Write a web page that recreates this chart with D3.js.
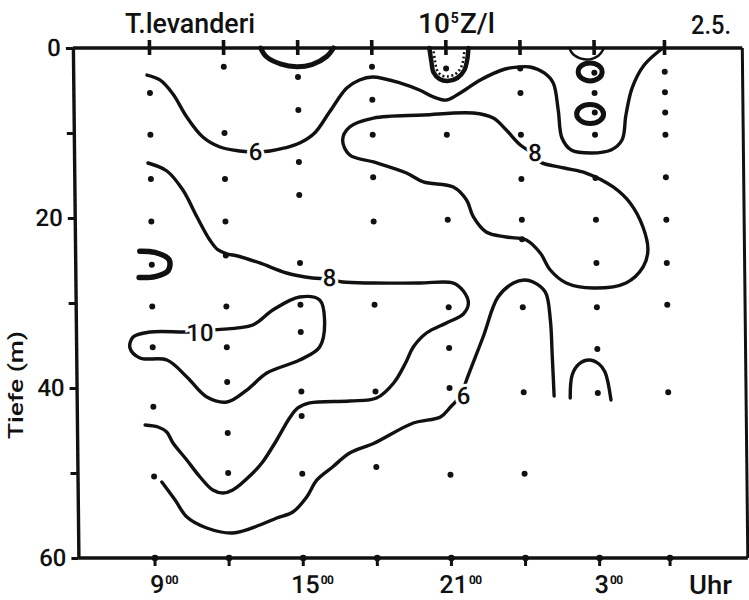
<!DOCTYPE html>
<html><head><meta charset="utf-8">
<script src="https://cdn.jsdelivr.net/npm/d3@7"></script>
<style>
html,body{margin:0;padding:0;background:#fff;}
svg{display:block;}
text{font-family:Roboto,"Liberation Sans",Arial,sans-serif;fill:#111;font-weight:500;}
</style></head><body>
<svg id="chart" width="749" height="600"></svg>
<script>
// ---------- data (time in hours, 24+ = next day; depth in m) ----------
const sampleTimes = [9, 12, 15, 18, 21, 24, 27, 29.85];
const sampleDepths = [
  [5.3, 10.2, 15.4, 20.4, 25.5, 30.4, 35.2, 42.2, 50.4],
  [2.2, 10, 15.4, 20.4, 24.4, 30.4, 35.2, 39.3, 45.3, 50],
  [3.4, 7.3, 13.4, 17.3, 25.3, 30.2, 33.4, 40.4, 43.3, 50.1],
  [2.2, 6.1, 10.2, 15.2, 20.4, 30.2, 40.4, 49.3],
  [2.4, 10.2, 20.2, 30.5, 35.3, 40, 50.2],
  [2.4, 5.3, 10.2, 15.4, 20.2, 22.5, 30.5, 40.5, 50.1],
  [2.9, 5.3, 7.6, 10.2, 15.3, 20.2, 25.3, 30.5, 35.4, 40.6],
  [2.8, 5.2, 7.6, 10.2, 15.2, 20.2, 25.3, 30.2, 40.5]
];
const depthTicks = [0, 10, 20, 30, 40, 50, 60];
const depthTickLabels = ["0", "", "20", "", "40", "", "60"];
const hourLabelTimes = [9, 15, 21, 27];
const hourLabels = ["9", "15", "21", "3"];
const hourSup = "00";
const timeDomain = [5.9, 33.0];
const depthDomain = [0, 60];

// isolines (10^5 cells per litre)
const iso6Upper = [[8.89,3.18],[9.41,3.76],[9.93,5.41],[10.48,8.12],[11.12,10.47],[11.81,11.65],[12.61,12.12],[13.22,12.24],[13.83,12.12],[14.43,11.76],[15.04,11.18],[15.65,10.0],[16.26,7.53],[16.97,4.71],[17.49,3.76],[18.02,3.41],[19.15,4.12],[19.91,4.94],[20.47,5.76],[21.0,6.12],[21.56,5.29],[22.38,3.76],[23.39,2.47],[23.92,2.24],[24.40,2.24],[24.97,2.94],[25.33,4.12],[25.52,7.29],[25.66,10.59],[26.03,12.0],[26.84,12.35],[27.64,12.0],[28.09,10.82],[28.26,7.88],[28.52,4.71],[29.02,2.0],[29.79,0]];
const iso8Open = [[8.89,13.53],[9.65,14.47],[10.29,16.71],[10.85,19.88],[11.36,22.59],[11.69,23.76],[12.08,24.24],[12.48,24.47],[13.37,25.29],[14.45,26.47],[15.50,27.06],[16.11,27.18],[16.72,27.53],[17.93,27.65],[19.83,27.65],[21.20,27.65],[21.60,28.59],[21.80,30.0],[21.59,31.29],[20.90,32.35],[20.09,33.53],[19.55,35.18],[19.23,37.06],[18.74,39.41],[18.04,41.18],[16.95,41.53],[15.33,41.76],[14.85,42.35],[14.51,43.53],[13.98,46.12],[13.40,48.71],[13.0,50.0],[12.18,52.0],[11.78,52.35],[11.37,52.0],[10.86,50.47],[10.33,48.47],[9.78,46.47],[9.53,45.18],[9.18,44.59],[8.66,44.35]];
const iso6Lower = [[9.31,51.06],[9.84,53.18],[10.31,55.18],[11.11,56.47],[12.16,57.06],[13.26,56.12],[13.95,55.29],[14.60,54.59],[15.17,52.82],[15.59,50.82],[16.23,49.29],[16.93,47.65],[17.94,46.47],[19.52,44.12],[20.62,43.41],[21.03,42.24],[21.47,40.82],[21.69,39.06],[22.38,34.0],[23.0,29.3],[23.63,27.65],[24.07,27.29],[24.43,27.53],[24.92,28.71],[25.11,32.0],[25.17,36.12],[25.23,40.94]];
const iso8Closed = [[18.04,8.24],[20.06,7.88],[22.08,7.65],[22.89,8.24],[23.41,9.65],[23.97,11.41],[24.57,12.59],[24.77,13.41],[25.74,14.12],[26.62,14.71],[27.71,16.35],[28.39,18.24],[28.90,21.06],[29.09,23.76],[28.89,25.76],[28.19,27.65],[26.86,28.24],[25.77,27.65],[25.13,26.12],[24.73,24.12],[24.17,22.59],[23.36,22.24],[22.55,21.65],[22.04,19.88],[21.77,17.88],[21.24,16.35],[20.03,15.76],[19.35,14.71],[18.02,13.41],[17.06,12.59],[16.78,10.82],[17.07,9.29]];
const iso10Closed = [[8.08,35.29],[8.21,34.0],[8.90,33.41],[10.23,33.41],[11.0,33.41],[11.44,33.18],[13.06,32.59],[13.88,30.82],[14.97,29.29],[15.78,29.65],[15.97,32.0],[15.76,35.18],[14.94,36.71],[13.61,38.24],[12.79,40.24],[11.98,41.65],[11.17,41.06],[10.37,38.71],[9.57,36.71],[8.48,36.47]];
const iso12Small = [[8.52,23.9],[9.13,24.05],[9.7,24.9],[9.66,26.2],[9.13,26.9],[8.48,27.0]];
const cap15 = [[13.50,0],[13.72,1.0],[14.32,1.9],[14.96,2.2],[15.57,1.95],[16.17,1.0],[16.45,0]];
const cap21 = [[20.33,0],[20.41,1.65],[20.48,2.82],[20.73,3.65],[21.05,3.88],[21.45,3.53],[21.74,2.59],[21.87,1.18],[21.91,0]];
const cap21Inner = [[20.5,0.4],[20.56,1.6],[20.63,2.6],[20.8,3.2],[21.05,3.35],[21.38,3.05],[21.6,2.3],[21.71,1.2],[21.74,0.4]];
const cap27 = [[25.99,0],[26.17,0.8],[26.67,1.35],[27.17,0.9],[27.40,0]];
const arch27 = [[25.88,41.18],[25.97,38.47],[26.25,37.18],[26.66,36.71],[27.06,37.18],[27.30,38.12],[27.53,41.41]];
const ovalTimes = [26.83, 26.81];
const ovalDepths = [2.82, 7.76];
const ovalHalfHours = [0.485, 0.545];
const ovalHalfDepths = [1.06, 1.12];

const isoLabelTexts = ["6", "8", "8", "10", "6"];
const isoLabelTimes = [13.25, 16.19, 24.56, 10.92, 21.56];
const isoLabelDepths = [12.2, 27.0, 12.35, 33.5, 40.9];

// ---------- drawing ----------
const ink = "#111";
const svg = d3.select("#chart");
svg.append("rect").attr("width", 749).attr("height", 600).attr("fill", "#fff");

const x = d3.scaleLinear().domain(timeDomain).range([72.9, 742.3]);
const y = d3.scaleLinear().domain(depthDomain).range([48, 558]);

// the scanned figure is slightly sheared
const k = 0.0108;
const g = svg.append("g")
  .attr("transform", `translate(${-k * 48},0) skewX(${Math.atan(k) * 180 / Math.PI})`);

// frame
g.append("line").attr("x1", x(timeDomain[0])).attr("x2", x(timeDomain[1]))
  .attr("y1", y(0)).attr("y2", y(0)).attr("stroke", ink).attr("stroke-width", 3.4);
g.append("line").attr("x1", x(timeDomain[0])).attr("x2", x(timeDomain[1]))
  .attr("y1", y(60)).attr("y2", y(60)).attr("stroke", ink).attr("stroke-width", 3.4);
g.append("line").attr("x1", x(timeDomain[1])).attr("x2", x(timeDomain[1]))
  .attr("y1", y(0)).attr("y2", y(60)).attr("stroke", ink).attr("stroke-width", 3);

// left axis
const yAxis = g.append("g").attr("transform", `translate(${x(timeDomain[0])},0)`)
  .call(d3.axisLeft(y).tickValues(depthTicks).tickSize(7).tickSizeOuter(0).tickPadding(5)
    .tickFormat((d, i) => depthTickLabels[i]));
yAxis.select(".domain").attr("stroke", ink).attr("stroke-width", 3.4);
yAxis.selectAll(".tick line").attr("stroke", ink).attr("stroke-width", 2.8);
yAxis.selectAll(".tick text").attr("fill", ink).attr("font-size", 24).attr("font-weight", 500)
  .attr("font-family", "Roboto, 'Liberation Sans', Arial, sans-serif");

// top and bottom ticks at sampling times
g.selectAll(".ttick").data(sampleTimes).join("line").attr("class", "ttick")
  .attr("x1", d => x(d)).attr("x2", d => x(d))
  .attr("y1", y(0) - 8).attr("y2", y(0) + 7).attr("stroke", ink).attr("stroke-width", 3.6);
g.selectAll(".btick").data(sampleTimes).join("line").attr("class", "btick")
  .attr("x1", d => x(d)).attr("x2", d => x(d))
  .attr("y1", y(60) - 3).attr("y2", y(60) + 8).attr("stroke", ink).attr("stroke-width", 3);
g.selectAll(".bdot").data(sampleTimes).join("circle").attr("class", "bdot")
  .attr("cx", d => x(d)).attr("cy", y(60)).attr("r", 3.3).attr("fill", ink);

// bottom labels: number centred on the tick, superscript trailing (one text element each)
hourLabelTimes.forEach((t, i) => {
  const tx = g.append("text").attr("y", 593).attr("text-anchor", "start");
  const main = tx.append("tspan").attr("font-size", 25).text(hourLabels[i]);
  tx.append("tspan").attr("font-size", 12).attr("font-weight", "bold").attr("dx", 1)
    .attr("dy", -9).attr("letter-spacing", -0.5).text(hourSup);
  const w = main.node().getComputedTextLength();
  tx.attr("x", x(t) - w / 2 + 2);
});

// isolines
const line = d3.line().x(d => x(d[0])).y(d => y(d[1])).curve(d3.curveCatmullRom.alpha(0.5));
const lineClosed = d3.line().x(d => x(d[0])).y(d => y(d[1])).curve(d3.curveCatmullRomClosed.alpha(0.5));
const iso = g.append("g").attr("fill", "none").attr("stroke", ink)
  .attr("stroke-linecap", "round").attr("stroke-linejoin", "round");
[iso6Upper, iso8Open, iso6Lower, arch27].forEach(p =>
  iso.append("path").attr("d", line(p)).attr("stroke-width", 3.4));
[iso8Closed, iso10Closed].forEach(p =>
  iso.append("path").attr("d", lineClosed(p)).attr("stroke-width", 3.4));
iso.append("path").attr("d", line(iso12Small)).attr("stroke-width", 5.5);
iso.append("path").attr("d", line(cap15)).attr("stroke-width", 5);
iso.append("path").attr("d", line(cap21)).attr("stroke-width", 4.5);
iso.append("path").attr("d", line(cap21Inner)).attr("stroke-width", 2.5)
  .attr("stroke-dasharray", "2,2.5").attr("stroke-linecap", "butt");
iso.append("path").attr("d", line(cap27)).attr("stroke-width", 2.5);
ovalTimes.forEach((t, i) => {
  iso.append("ellipse").attr("cx", x(t)).attr("cy", y(ovalDepths[i]))
    .attr("rx", x(t + ovalHalfHours[i]) - x(t))
    .attr("ry", y(ovalDepths[i] + ovalHalfDepths[i]) - y(ovalDepths[i]))
    .attr("stroke-width", 5);
});

// isoline labels
isoLabelTexts.forEach((s, i) => {
  g.append("text").attr("x", x(isoLabelTimes[i])).attr("y", y(isoLabelDepths[i]) + 8.5)
    .attr("text-anchor", "middle").attr("font-size", 24)
    .attr("stroke", "#fff").attr("stroke-width", 6).attr("paint-order", "stroke")
    .text(s);
});

// sampling points
sampleTimes.forEach((t, i) => {
  g.selectAll(null).data(sampleDepths[i]).join("circle")
    .attr("cx", x(t)).attr("cy", d => y(d)).attr("r", 3).attr("fill", ink);
});

// titles
svg.append("text").attr("x", 125).attr("y", 33).attr("font-size", 28)
  .attr("textLength", 130).attr("lengthAdjust", "spacingAndGlyphs").text("T.levanderi");
const unit = svg.append("text").attr("x", 418).attr("y", 33).attr("font-size", 28);
unit.append("tspan").text("10");
unit.append("tspan").attr("font-size", 14).attr("font-weight", "bold").attr("dy", -10).attr("dx", 1).text("5");
unit.append("tspan").attr("dy", 10).attr("dx", 1).text("Z/l");
svg.append("text").attr("x", 691).attr("y", 34).attr("font-size", 25)
  .attr("textLength", 40).attr("lengthAdjust", "spacingAndGlyphs").text("2.5.");
svg.append("text").attr("x", 689).attr("y", 594).attr("font-size", 25)
  .attr("textLength", 43).attr("lengthAdjust", "spacingAndGlyphs").text("Uhr");
svg.append("text").attr("transform", "translate(23,385) rotate(-90)")
  .attr("text-anchor", "middle").attr("font-size", 21).attr("font-weight", "bold")
  .attr("textLength", 108).attr("lengthAdjust", "spacingAndGlyphs").text("Tiefe (m)");
</script>
</body></html>
